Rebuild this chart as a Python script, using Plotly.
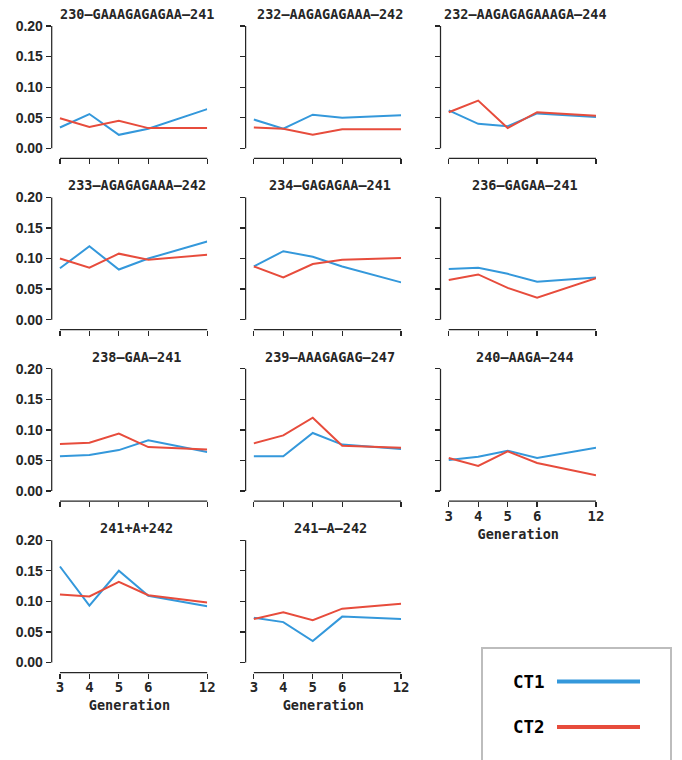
import plotly.graph_objects as go

# ---------------- data ----------------
generations = ["3", "4", "5", "6", "12"]
gen_pos = [0, 1, 2, 3, 5]          # 12 sits two steps after 6
series_names = ["CT1", "CT2"]
series_colors = ["#3498db", "#e74c3c"]

titles = [
    "230–GAAAGAGAGAA–241", "232–AAGAGAGAAA–242", "232–AAGAGAGAAAGA–244",
    "233–AGAGAGAAA–242", "234–GAGAGAA–241", "236–GAGAA–241",
    "238–GAA–241", "239–AAAGAGAG–247", "240–AAGA–244",
    "241+A+242", "241–A–242",
]

ct1 = [
    [0.034, 0.056, 0.022, 0.032, 0.064],
    [0.047, 0.032, 0.055, 0.050, 0.054],
    [0.062, 0.040, 0.036, 0.057, 0.051],
    [0.084, 0.120, 0.082, 0.100, 0.128],
    [0.087, 0.112, 0.103, 0.087, 0.061],
    [0.083, 0.085, 0.075, 0.062, 0.069],
    [0.057, 0.059, 0.067, 0.083, 0.064],
    [0.057, 0.057, 0.095, 0.076, 0.069],
    [0.051, 0.056, 0.066, 0.054, 0.071],
    [0.157, 0.093, 0.150, 0.109, 0.092],
    [0.073, 0.066, 0.035, 0.075, 0.071],
]
ct2 = [
    [0.049, 0.035, 0.045, 0.033, 0.033],
    [0.034, 0.032, 0.022, 0.031, 0.031],
    [0.059, 0.078, 0.033, 0.059, 0.053],
    [0.100, 0.085, 0.108, 0.098, 0.106],
    [0.087, 0.069, 0.091, 0.098, 0.101],
    [0.065, 0.074, 0.052, 0.036, 0.068],
    [0.077, 0.079, 0.094, 0.072, 0.068],
    [0.078, 0.091, 0.120, 0.074, 0.071],
    [0.054, 0.041, 0.065, 0.046, 0.026],
    [0.111, 0.108, 0.132, 0.110, 0.098],
    [0.071, 0.082, 0.069, 0.088, 0.096],
]
y_ticks = [0.0, 0.05, 0.10, 0.15, 0.20]
x_labelled = {8, 9, 10}

# ---------------- layout ----------------
W, H = 682, 760
col_left = [51.7, 245.6, 440.5]
ax_w = 155.5
row_top0, row_step, ax_h = 26.0, 171.4, 132.3
x_range = [-0.28, 5.0]
y_range = [-0.0164, 0.2]
ink = "#262626"
title_font = dict(family="DejaVu Sans Mono", size=13.5, color=ink, weight="bold")
ytick_font = dict(family="Liberation Sans", size=14, color=ink, weight="bold")
xtick_font = dict(family="DejaVu Sans Mono", size=14, color=ink, weight="bold")

fig = go.Figure()
shapes, annotations = [], []


def lin(v, r, d):
    return d[0] + (v - r[0]) / (r[1] - r[0]) * (d[1] - d[0])


for i, title in enumerate(titles):
    r, c = divmod(i, 3)
    n = "" if i == 0 else str(i + 1)
    xd = [col_left[c] / W, (col_left[c] + ax_w) / W]
    top = row_top0 + r * row_step
    yd = [1 - (top + ax_h) / H, 1 - top / H]

    for vals, name, color in zip((ct1[i], ct2[i]), series_names, series_colors):
        fig.add_trace(go.Scatter(
            x=gen_pos, y=vals, mode="lines", name=name,
            line=dict(color=color, width=2), xaxis="x" + n, yaxis="y" + n,
            showlegend=False, hoverinfo="skip"))

    fig.layout["xaxis" + n] = dict(
        domain=xd, anchor="y" + n, range=x_range, showgrid=False, zeroline=False,
        showline=False, automargin=False, fixedrange=True,
        ticks="outside", ticklen=5, tickwidth=1.25, tickcolor=ink,
        tickvals=gen_pos, ticktext=generations, showticklabels=i in x_labelled,
        tickfont=xtick_font, ticklabelstandoff=-3,
        title=dict(text="Generation" if i in x_labelled else "",
                   font=title_font, standoff=6))
    fig.layout["yaxis" + n] = dict(
        domain=yd, anchor="x" + n, range=y_range, showgrid=False, zeroline=False,
        showline=False, automargin=False, fixedrange=True,
        ticks="outside", ticklen=5, tickwidth=1.25, tickcolor=ink,
        tickvals=y_ticks, tickformat=".2f", showticklabels=(c == 0),
        tickfont=ytick_font)

    # trimmed spines
    y0p = lin(y_ticks[0], y_range, yd)
    y1p = lin(y_ticks[-1], y_range, yd)
    shapes.append(dict(type="line", xref="paper", yref="paper",
                       x0=xd[0], x1=xd[0], y0=y0p, y1=y1p,
                       line=dict(color=ink, width=1.25)))
    x0p = lin(gen_pos[0], x_range, xd)
    x1p = lin(gen_pos[-1], x_range, xd)
    shapes.append(dict(type="line", xref="paper", yref="paper",
                       x0=x0p, x1=x1p, y0=yd[0], y1=yd[0],
                       line=dict(color=ink, width=1.25)))

    annotations.append(dict(
        text=title, xref="paper", yref="paper",
        x=(x0p + x1p) / 2, y=yd[1], xanchor="center", yanchor="bottom",
        xshift=3, yshift=2, showarrow=False, font=title_font))

# legend box (drawn by hand: labels left of the lines)
box = dict(x0=482 / W, x1=671 / W, y0=-0.05, y1=1 - 648 / H)
shapes.append(dict(type="rect", xref="paper", yref="paper", **box,
                   line=dict(color="#bdbdbd", width=2), fillcolor="white"))
for k, (name, color) in enumerate(zip(series_names, series_colors)):
    yk = 1 - (681.5 + 45.5 * k) / H
    shapes.append(dict(type="line", xref="paper", yref="paper",
                       x0=557 / W, x1=640 / W, y0=yk, y1=yk,
                       line=dict(color=color, width=4)))
    annotations.append(dict(
        text=name, xref="paper", yref="paper", x=547 / W, y=yk,
        xanchor="right", yanchor="middle", showarrow=False,
        font=dict(family="DejaVu Sans Mono", size=17.5, color="black", weight="bold")))

fig.update_layout(
    template="none",
    width=W, height=H, margin=dict(l=0, r=0, t=0, b=0, pad=0, autoexpand=False),
    paper_bgcolor="white", plot_bgcolor="white", showlegend=False,
    hovermode=False, shapes=shapes, annotations=annotations)

fig.write_html("out.html",
               config={"displayModeBar": False, "staticPlot": True},
               post_script="document.body.style.margin='0';"
                           "document.body.style.overflow='hidden';")
